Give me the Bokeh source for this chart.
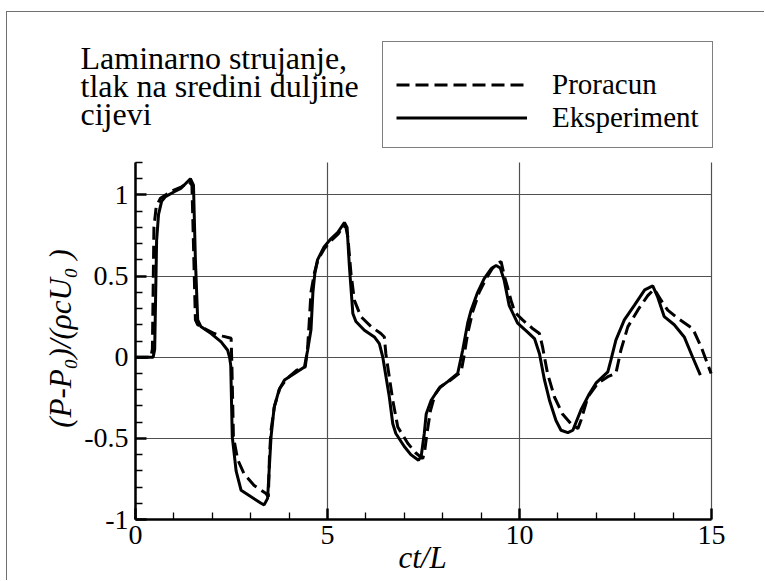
import numpy as np
from bokeh.plotting import figure
from bokeh.models import (Range1d, FixedTicker, Legend, LegendItem, Label,
                          LabelSet, ColumnDataSource, Grid)
from bokeh.core.properties import value
from bokeh.embed import file_html
from bokeh.resources import INLINE

# ---------------- data ----------------
x_ticks = [0, 5, 10, 15]
x_tick_labels = ["0", "5", "10", "15"]
x_minor = [1, 2, 3, 4, 6, 7, 8, 9, 11, 12, 13, 14]
y_ticks = [-1, -0.5, 0, 0.5, 1]
y_tick_labels = ["-1", "-0.5", "0", "0.5", "1"]
y_minor = [-0.9, -0.8, -0.7, -0.6, -0.4, -0.3, -0.2, -0.1, 0.1, 0.2, 0.3, 0.4,
           0.6, 0.7, 0.8, 0.9, 1.1, 1.2]
x_lim = (0, 15)
y_lim = (-1, 1.2)

exp_x = [0.0, 0.46, 0.50, 0.55, 0.60, 0.68, 0.78, 1.01, 1.18, 1.43, 1.51, 1.56,
         1.62, 1.70, 1.97, 2.23, 2.40, 2.45, 2.48, 2.52, 2.62, 2.75, 3.27, 3.35,
         3.44, 3.53, 3.61, 3.74, 3.88, 4.14, 4.40, 4.48, 4.57, 4.62, 4.67, 4.74,
         4.91, 5.09, 5.27, 5.44, 5.51, 5.57, 5.66, 5.74, 5.96, 6.22, 6.35, 6.44,
         6.61, 6.70, 6.78, 7.00, 7.17, 7.37, 7.44, 7.52, 7.57, 7.70, 7.91, 8.13,
         8.39, 8.52, 8.65, 8.74, 8.91, 9.08, 9.26, 9.39, 9.50, 9.60, 9.73, 9.95,
         10.21, 10.39, 10.52, 10.65, 10.78, 10.95, 11.08, 11.26, 11.39, 11.60,
         11.82, 11.99, 12.30, 12.38, 12.51, 12.73, 12.99, 13.26, 13.47, 13.60,
         13.77, 14.03, 14.29, 14.51, 14.71]
exp_y = [0.0, 0.0, 0.05, 0.72, 0.88, 0.96, 0.99, 1.02, 1.04, 1.10, 1.06, 0.60,
         0.23, 0.19, 0.146, 0.095, 0.043, 0.0, -0.05, -0.49, -0.70, -0.82, -0.90,
         -0.91, -0.87, -0.49, -0.31, -0.20, -0.14, -0.10, -0.06, 0.04, 0.17, 0.40,
         0.515, 0.60, 0.68, 0.73, 0.77, 0.83, 0.80, 0.56, 0.27, 0.22, 0.166,
         0.125, 0.084, 0.0, -0.245, -0.41, -0.47, -0.55, -0.60, -0.635, -0.61,
         -0.47, -0.35, -0.265, -0.19, -0.15, -0.10, 0.043, 0.21, 0.29, 0.40,
         0.485, 0.545, 0.565, 0.55, 0.475, 0.32, 0.21, 0.155, 0.115, 0.022,
         -0.14, -0.265, -0.39, -0.45, -0.465, -0.45, -0.325, -0.225, -0.16,
         -0.09, -0.018, 0.105, 0.23, 0.32, 0.415, 0.44, 0.37, 0.25, 0.20, 0.125,
         0.0, -0.11]

calc_x = [0.0, 0.40, 0.44, 0.48, 0.54, 0.65, 0.78, 1.00, 1.20, 1.40, 1.47, 1.52,
          1.56, 1.62, 1.79, 2.05, 2.27, 2.49, 2.51, 2.55, 2.66, 2.83, 3.09, 3.40,
          3.46, 3.49, 3.53, 3.62, 3.76, 3.95, 4.20, 4.42, 4.48, 4.52, 4.57, 4.66,
          4.75, 4.92, 5.10, 5.28, 5.42, 5.48, 5.53, 5.61, 5.70, 5.87, 6.13, 6.39,
          6.48, 6.52, 6.57, 6.70, 6.83, 7.09, 7.30, 7.48, 7.53, 7.59, 7.68, 7.80,
          7.95, 8.15, 8.48, 8.55, 8.65, 8.78, 8.95, 9.12, 9.30, 9.45, 9.52, 9.61,
          9.69, 9.78, 9.86, 9.95, 10.08, 10.34, 10.52, 10.60, 10.73, 10.91, 11.12,
          11.34, 11.52, 11.60, 11.78, 12.04, 12.30, 12.51, 12.64, 12.82, 13.08,
          13.34, 13.51, 13.69, 13.86, 14.12, 14.51, 14.73, 14.99]
calc_y = [0.0, 0.0, 0.05, 0.80, 0.93, 0.98, 1.00, 1.03, 1.05, 1.08, 1.06, 0.60,
          0.23, 0.20, 0.177, 0.146, 0.13, 0.117, -0.05, -0.49, -0.63, -0.72,
          -0.79, -0.84, -0.86, -0.60, -0.45, -0.30, -0.19, -0.13, -0.08, -0.06,
          0.05, 0.20, 0.40, 0.52, 0.60, 0.67, 0.72, 0.76, 0.81, 0.80, 0.74, 0.52,
          0.35, 0.25, 0.19, 0.146, 0.125, 0.02, -0.06, -0.265, -0.43, -0.53,
          -0.59, -0.625, -0.58, -0.47, -0.33, -0.23, -0.18, -0.15, -0.09, 0.0,
          0.146, 0.28, 0.40, 0.48, 0.55, 0.58, 0.59, 0.495, 0.43, 0.35, 0.29,
          0.26, 0.23, 0.177, 0.146, 0.064, -0.10, -0.245, -0.35, -0.41, -0.44,
          -0.39, -0.245, -0.16, -0.12, -0.10, 0.043, 0.187, 0.29, 0.38, 0.42,
          0.35, 0.29, 0.24, 0.177, 0.064, -0.10]

title_lines = ["Laminarno strujanje,", "tlak na sredini duljine", "cijevi"]
legend_labels = ["Proracun", "Eksperiment"]
x_title = "ct/L"
y_title = "(P-P\u2080)/(\u03c1cU\u2080 )"

# ---------------- layout (picture px) ----------------
OX, OY = 7, 12                        # canvas origin in the picture
W, H = 765 - OX, 581 - OY
MB_L, MB_T, MB_R, MB_B = 20, 4, 4, 1  # canvas borders
FLp, FTp = OX + MB_L, OY + MB_T       # frame edges in picture px
FRp, FBp = OX + W - MB_R, OY + H - MB_B
AX_L, AX_R, AX_T, AX_B = 135, 711, 162, 519   # where the axes box sits
kx = (AX_R - AX_L) / (x_lim[1] - x_lim[0])
ky = (AX_B - AX_T) / (y_lim[1] - y_lim[0])
x_range = Range1d(x_lim[0] - (AX_L - FLp) / kx, x_lim[1] + (FRp - AX_R) / kx)
y_range = Range1d(y_lim[0] - (FBp - AX_B) / ky, y_lim[1] + (AX_T - FTp) / ky)
FONT = "Liberation Serif"
MID = 0.41   # distance from the baseline to the text middle, in em


def sx(px):
    return px - FLp


def sy(py):
    return FBp - py


def set_font(obj, attr, font=FONT):
    try:
        setattr(obj, attr, value(font))
    except Exception:
        setattr(obj, attr, font)
    return obj


p = figure(width=W, height=H, output_backend="svg", toolbar_location=None,
           x_range=x_range, y_range=y_range,
           min_border_left=MB_L, min_border_top=MB_T,
           min_border_right=MB_R, min_border_bottom=MB_B,
           styles={"margin-left": f"{OX - 1}px", "margin-top": f"{OY - 1}px",
                   "border-left": "1px solid #707070",
                   "border-top": "1px solid #707070"})
p.outline_line_color = None
p.background_fill_color = "white"
p.border_fill_color = "white"

p.xaxis.ticker = FixedTicker(ticks=x_ticks, minor_ticks=x_minor)
p.yaxis.ticker = FixedTicker(ticks=y_ticks, minor_ticks=y_minor)
p.xaxis.fixed_location = y_lim[0]
p.yaxis.fixed_location = x_lim[0]
p.xaxis.bounds = x_lim
p.yaxis.bounds = y_lim
for ax in (p.xaxis, p.yaxis):
    ax.axis_line_color = "black"
    ax.axis_line_width = 2.5
    ax.major_tick_in = 11
    ax.major_tick_out = 0
    ax.major_tick_line_width = 2.5
    ax.major_tick_line_color = "black"
    ax.minor_tick_in = 7
    ax.minor_tick_out = 0
    ax.minor_tick_line_width = 1.3
    ax.minor_tick_line_color = "black"
    ax.major_label_text_font_size = "0px"
    ax.major_label_text_color = None
    ax.major_label_standoff = 0

grid_color, grid_width = "#505050", 1.2
if "cross_bounds" in Grid.properties():
    p.xgrid.cross_bounds = y_lim
    p.ygrid.cross_bounds = x_lim
    p.grid.grid_line_color = grid_color
    p.grid.grid_line_width = grid_width
else:
    p.grid.visible = False
    p.segment(x0=x_ticks[1:], x1=x_ticks[1:], y0=[y_lim[0]] * 3,
              y1=[y_lim[1]] * 3, line_color=grid_color, line_width=grid_width)
    p.segment(x0=[x_lim[0]] * 4, x1=[x_lim[1]] * 4, y0=y_ticks[1:],
              y1=y_ticks[1:], line_color=grid_color, line_width=grid_width)

r_calc = p.line(calc_x, calc_y, line_color="black", line_width=3,
                line_dash="13 6")
r_exp = p.line(exp_x, exp_y, line_color="black", line_width=3)

# tick labels placed at the tick values through the plot's scales
ly = LabelSet(x="x", y="y", text="t",
              source=ColumnDataSource(dict(x=[x_lim[0]] * len(y_ticks),
                                           y=y_ticks, t=y_tick_labels)),
              x_offset=-7, text_align="right", text_baseline="middle",
              text_font_size="28px", text_color="black")
set_font(ly, "text_font")
p.add_layout(ly)
lx = LabelSet(x="x", y="y", text="t",
              source=ColumnDataSource(dict(x=x_ticks,
                                           y=[y_lim[0]] * len(x_ticks),
                                           t=x_tick_labels)),
              y_offset=-6, text_align="center", text_baseline="top",
              text_font_size="28px", text_color="black")
set_font(lx, "text_font")
p.add_layout(lx)

legend = Legend(items=[LegendItem(label=legend_labels[0], renderers=[r_calc]),
                       LegendItem(label=legend_labels[1], renderers=[r_exp])],
                location=(sx(382), sy(148)),
                orientation="vertical", title=" ",
                title_text_font_size="10px", title_standoff=2,
                glyph_width=131, glyph_height=33, label_height=33,
                label_standoff=25, padding=13, spacing=0, margin=0,
                label_text_font_size="29px", label_text_color="black",
                border_line_color="black", border_line_width=1.2,
                background_fill_color="white", background_fill_alpha=1.0)
set_font(legend, "label_text_font")
p.add_layout(legend, "center")


def add_text(txt, px, base_py, size, style="normal", angle=0.0,
             align="left"):
    off = MID * size
    if angle == 0.0:
        x, y = sx(px), sy(base_py - off)
    else:                       # rotated a quarter turn, reading upward
        x, y = sx(px - off), sy(base_py)
    lab = Label(x=x, y=y, x_units="screen", y_units="screen", text=txt,
                angle=angle, text_font_size=f"{size}px",
                text_font_style=style, text_align=align,
                text_baseline="middle", text_color="black")
    set_font(lab, "text_font")
    p.add_layout(lab)


for txt, base in zip(title_lines, [71, 99, 127]):
    add_text(txt, 80, base, 32)
add_text(x_title, 398, 570, 31, style="italic")
add_text(y_title, 73, 338, 31, style="italic", angle=np.pi / 2,
         align="center")

open("out.html", "w").write(file_html(p, INLINE))
